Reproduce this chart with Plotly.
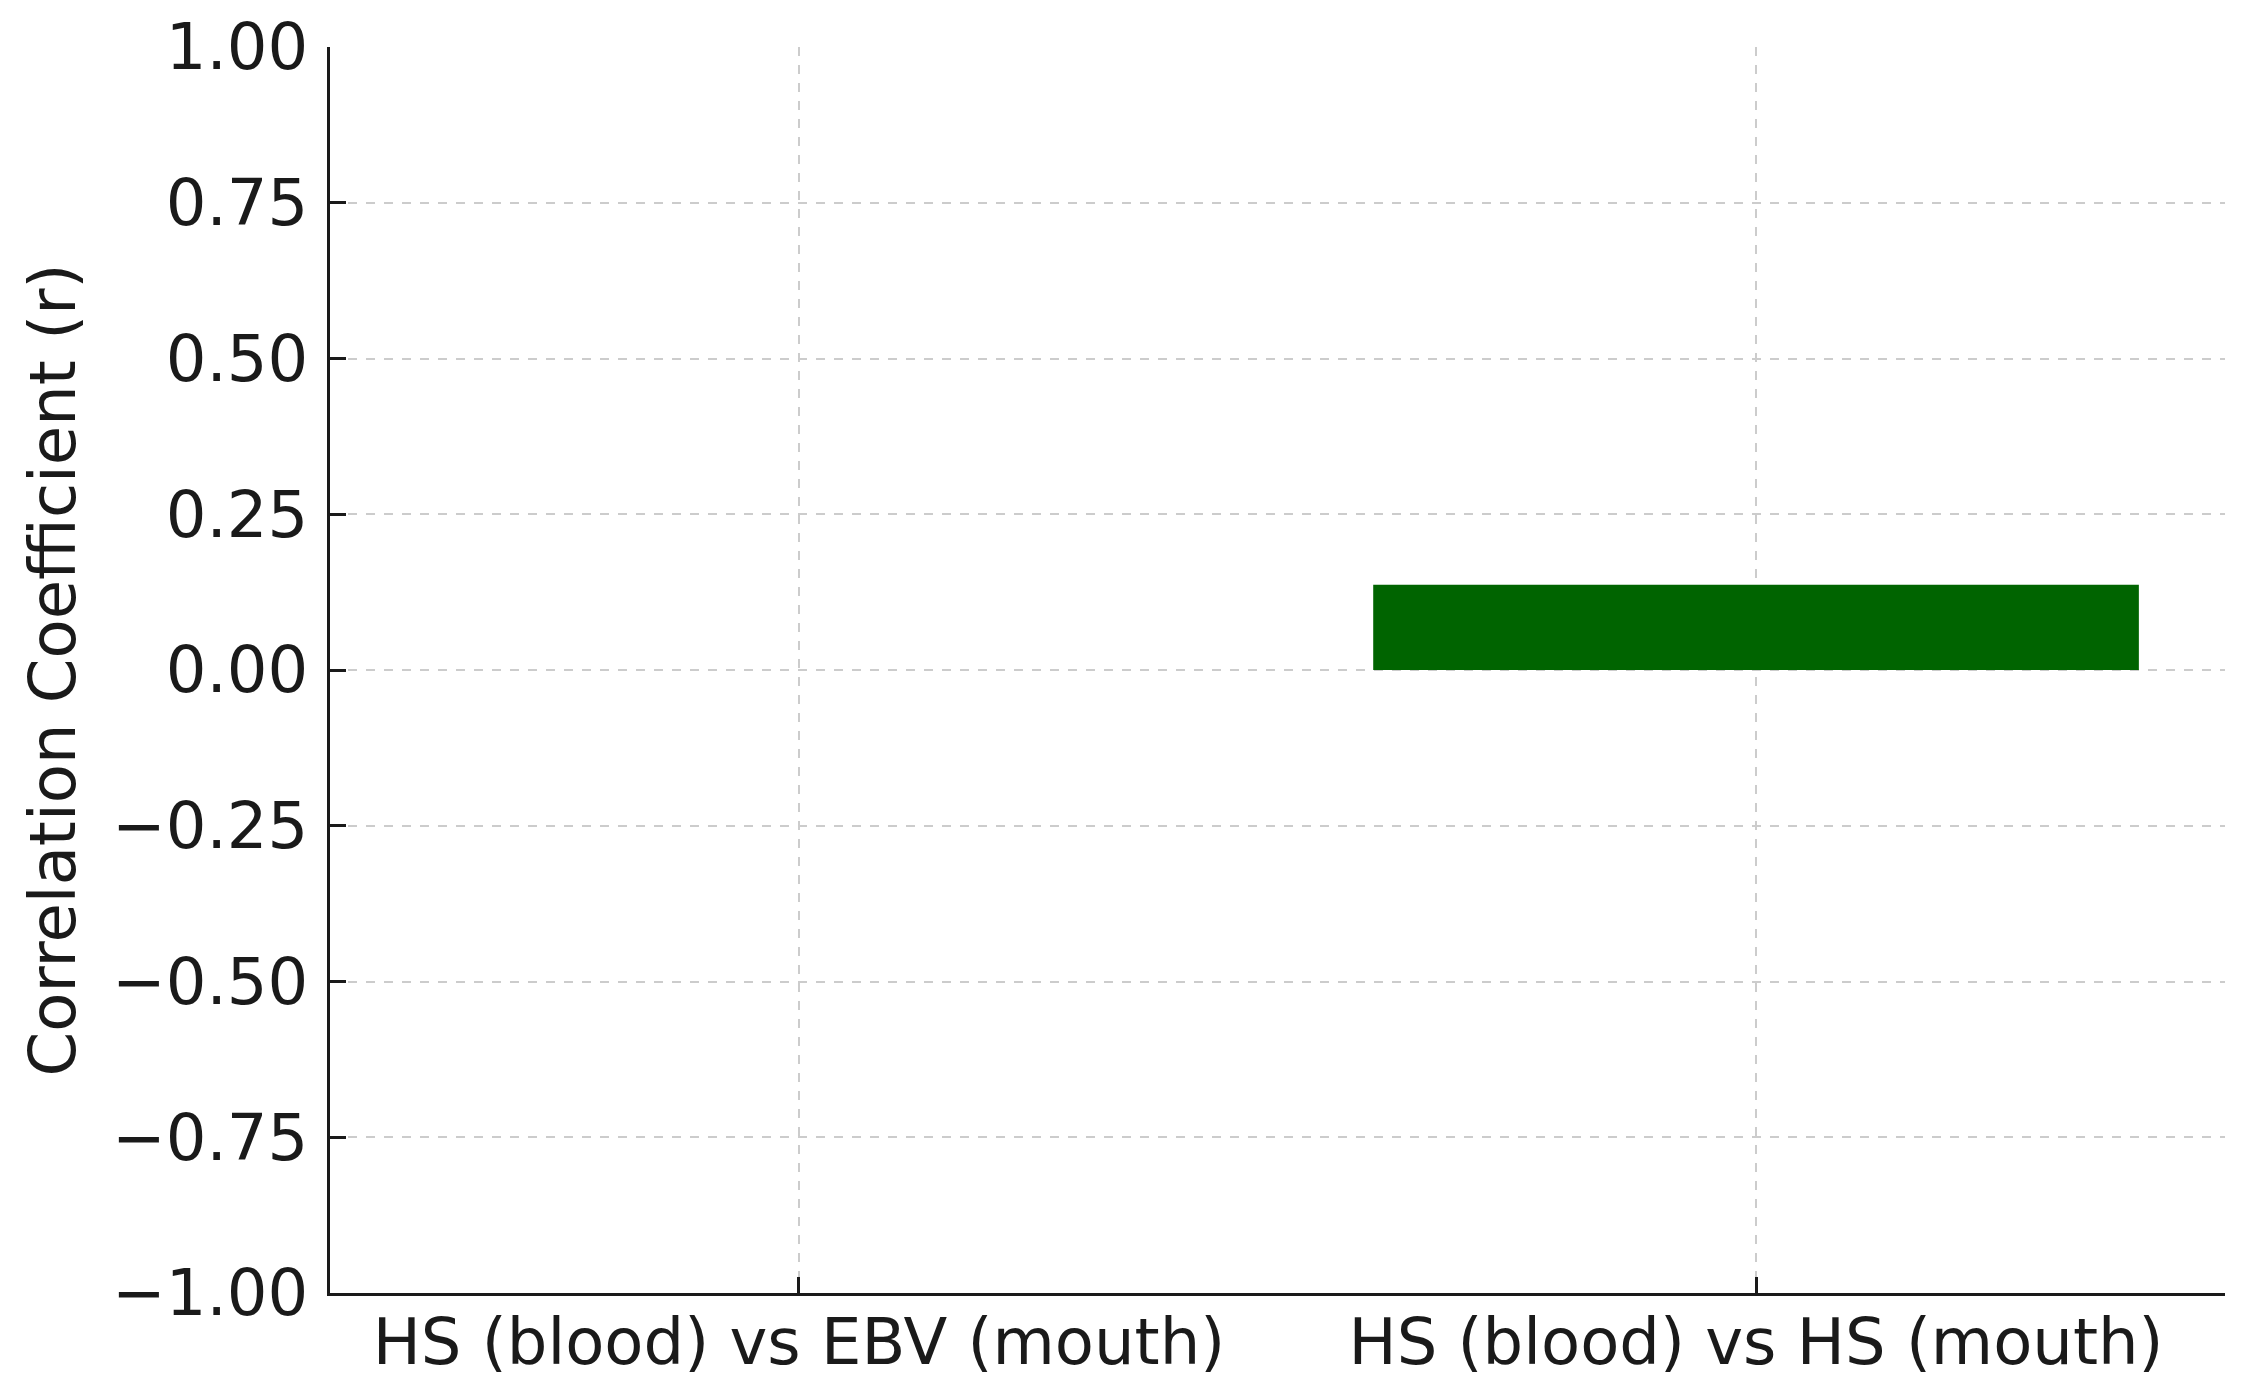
import plotly.graph_objects as go

categories = ["HS (blood) vs EBV (mouth)", "HS (blood) vs HS (mouth)"]
correlations = [0.0, 0.137]
y_ticks = [-1.0, -0.75, -0.5, -0.25, 0.0, 0.25, 0.5, 0.75, 1.0]

FONT = "DejaVu Sans, Liberation Sans, sans-serif"

fig = go.Figure(go.Bar(
    x=categories, y=correlations,
    width=0.8,
    marker_color="#006400", marker_line_width=0,
))

axis_common = dict(
    showline=True, linecolor="#1a1a1a", linewidth=3, mirror=False,
    ticks="inside", ticklen=16, tickwidth=3, tickcolor="#1a1a1a",
    showgrid=True, gridcolor="#cccccc", gridwidth=2, griddash="dash",
    zeroline=False, automargin=False,
    tickfont=dict(family=FONT, size=64, color="#1a1a1a"),
)

# page body adds an 8px offset, so the figure is 16px smaller than the window
fig.update_layout(
    width=2240, height=1389,
    paper_bgcolor="white", plot_bgcolor="white",
    font=dict(family=FONT, color="#1a1a1a"),
    margin=dict(l=322, r=23, t=39, b=104),
    showlegend=False,
    xaxis=dict(range=[-0.49, 1.49], ticklabelstandoff=-9, **axis_common),
    yaxis=dict(
        range=[-1, 1], tickvals=y_ticks, tickformat=".2f",
        ticklabelstandoff=6,
        title=dict(text="Correlation Coefficient (r)", standoff=16,
                   font=dict(family=FONT, size=64, color="#1a1a1a")),
        **axis_common,
    ),
)

fig.write_html("out.html")
